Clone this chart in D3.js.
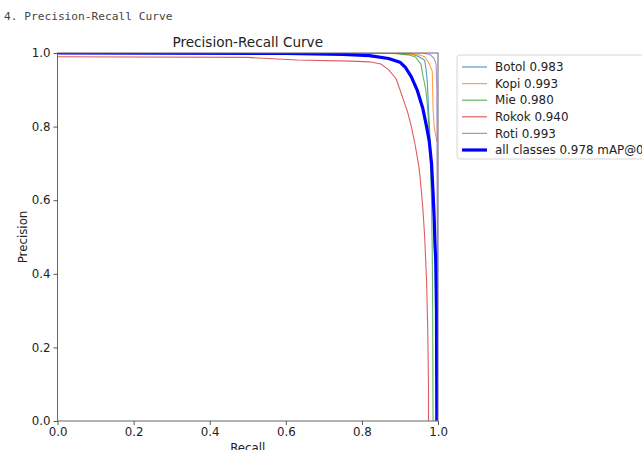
<!DOCTYPE html>
<html>
<head>
<meta charset="utf-8">
<script src="https://cdn.jsdelivr.net/npm/d3@7"></script>
<style>
  body { margin: 0; background: #fff; }
  #pr { position: relative; width: 642px; height: 450px; overflow: hidden; }
  .heading { position: absolute; left: 4px; top: 10px; font: 11.2px "DejaVu Sans Mono", monospace; color: #444; }
  text { font-family: "DejaVu Sans", sans-serif; fill: #222; }
</style>
</head>
<body>
<div id="pr">
  <div class="heading">4. Precision-Recall Curve</div>
</div>
<script>
// ---- data ----
var classNames = ['Botol', 'Kopi', 'Mie', 'Rokok', 'Roti'];
var classAP = ['0.983', '0.993', '0.980', '0.940', '0.993'];
var classColors = ['#1f77b4', '#ff7f0e', '#2ca02c', '#d62728', '#9467bd'];

var botolR = [0, 0.90, 0.93, 0.95, 0.965, 0.968, 0.972, 0.975, 0.98, 0.985, 0.99, 0.993, 0.995, 0.996];
var botolP = [1, 1.00, 0.998, 0.99, 0.98, 0.96, 0.92, 0.85, 0.75, 0.65, 0.55, 0.45, 0.30, 0.0];

var kopiR = [0, 0.85, 0.95, 0.965, 0.975, 0.985, 0.987, 0.99, 0.995, 0.997, 0.997];
var kopiP = [1, 1.00, 0.995, 0.99, 0.975, 0.95, 0.85, 0.80, 0.77, 0.76, 0.76];

var mieR = [0, 0.88, 0.92, 0.94, 0.955, 0.96, 0.968, 0.972, 0.976, 0.98, 0.983, 0.985, 0.986, 0.987];
var mieP = [1, 1.00, 0.995, 0.99, 0.97, 0.94, 0.90, 0.86, 0.80, 0.70, 0.60, 0.45, 0.30, 0.0];

var rokokR = [0, 0.50, 0.63, 0.77, 0.82, 0.85, 0.87, 0.89, 0.90, 0.91, 0.92, 0.93, 0.94, 0.95, 0.955, 0.96, 0.965, 0.97, 0.973, 0.975, 0.975];
var rokokP = [0.99, 0.988, 0.981, 0.978, 0.976, 0.97, 0.955, 0.93, 0.90, 0.87, 0.84, 0.80, 0.75, 0.69, 0.64, 0.58, 0.50, 0.38, 0.25, 0.10, 0.0];

var rotiR = [0, 0.96, 0.98, 0.99, 0.995, 0.997, 0.998, 0.998];
var rotiP = [1, 1.00, 0.995, 0.985, 0.97, 0.90, 0.50, 0.0];

var allR = [0, 0.60, 0.75, 0.82, 0.87, 0.90, 0.915, 0.93, 0.945, 0.96, 0.97, 0.977, 0.983, 0.987, 0.99, 0.992, 0.994, 0.996, 0.997];
var allP = [1, 0.999, 0.996, 0.993, 0.985, 0.975, 0.96, 0.935, 0.90, 0.85, 0.80, 0.76, 0.70, 0.62, 0.55, 0.48, 0.44, 0.30, 0.0];
var allLabel = 'all classes 0.978 mAP@0.5';

var tickVals = [0, 0.2, 0.4, 0.6, 0.8, 1.0];

// ---- layout ----
var plot = {left: 57.5, right: 438, top: 53, bottom: 421};

var svg = d3.select('#pr').append('svg')
    .attr('width', 642).attr('height', 450)
    .style('position', 'absolute').style('left', 0).style('top', 0);

var xScale = d3.scaleLinear().domain([0, 1]).range([plot.left, plot.right]),
    yScale = d3.scaleLinear().domain([0, 1]).range([plot.bottom, plot.top]);

svg.append('defs').append('clipPath').attr('id', 'clip')
  .append('rect')
    .attr('x', plot.left).attr('y', plot.top)
    .attr('width', plot.right - plot.left).attr('height', plot.bottom - plot.top);

var zip = function(r, p) { return r.map(function(d, i) { return [d, p[i]]; }); };
var line = d3.line().x(function(d) { return xScale(d[0]); }).y(function(d) { return yScale(d[1]); });

var series = [zip(botolR, botolP), zip(kopiR, kopiP), zip(mieR, mieP), zip(rokokR, rokokP), zip(rotiR, rotiP)];

var curves = svg.append('g').attr('clip-path', 'url(#clip)');
series.forEach(function(s, i) {
  curves.append('path')
    .attr('d', line(s))
    .attr('fill', 'none')
    .attr('stroke', classColors[i])
    .attr('stroke-opacity', 0.75)
    .attr('stroke-width', 1.1);
});
curves.append('path')
  .attr('d', line(zip(allR, allP)))
  .attr('fill', 'none')
  .attr('stroke', 'blue')
  .attr('stroke-width', 3.2)
  .attr('stroke-linejoin', 'round');

// frame
svg.append('rect')
  .attr('x', plot.left).attr('y', plot.top)
  .attr('width', plot.right - plot.left).attr('height', plot.bottom - plot.top)
  .attr('fill', 'none').attr('stroke', '#666').attr('stroke-width', 1);

// axes
var fmt = d3.format('.1f');
var xAxis = svg.append('g')
  .attr('transform', 'translate(0,' + plot.bottom + ')')
  .call(d3.axisBottom(xScale).tickValues(tickVals).tickFormat(fmt).tickSize(4).tickPadding(3));
var yAxis = svg.append('g')
  .attr('transform', 'translate(' + plot.left + ',0)')
  .call(d3.axisLeft(yScale).tickValues(tickVals).tickFormat(fmt).tickSize(4).tickPadding(3));
[xAxis, yAxis].forEach(function(a) {
  a.select('.domain').remove();
  a.selectAll('line').attr('stroke', '#555');
  a.selectAll('text').style('font-size', '11.8px').style('font-family', '"DejaVu Sans", sans-serif').attr('fill', '#333');
});

// labels
svg.append('text')
  .attr('x', (plot.left + plot.right) / 2).attr('y', 47)
  .attr('text-anchor', 'middle').style('font-size', '13.6px')
  .text('Precision-Recall Curve');
svg.append('text')
  .attr('x', (plot.left + plot.right) / 2).attr('y', 452)
  .attr('text-anchor', 'middle').style('font-size', '11.8px').attr('fill', '#333')
  .text('Recall');
svg.append('text')
  .attr('transform', 'translate(27,' + ((plot.top + plot.bottom) / 2) + ') rotate(-90)')
  .attr('text-anchor', 'middle').style('font-size', '11.8px').attr('fill', '#333')
  .text('Precision');

// legend
var legend = svg.append('g').attr('transform', 'translate(457,55)');
legend.append('rect')
  .attr('x', 0).attr('y', 0).attr('width', 220).attr('height', 104)
  .attr('rx', 3).attr('fill', '#fff').attr('stroke', '#d6d6d6');
var legendItems = classNames.map(function(n, i) {
  return {label: n + ' ' + classAP[i], color: classColors[i], width: 1.2, opacity: 0.75};
});
legendItems.push({label: allLabel, color: 'blue', width: 3.2, opacity: 1});
legendItems.forEach(function(d, i) {
  var yy = 12 + i * 16.6;
  legend.append('line')
    .attr('x1', 5).attr('x2', 30).attr('y1', yy).attr('y2', yy)
    .attr('stroke', d.color).attr('stroke-width', d.width).attr('stroke-opacity', d.opacity);
  legend.append('text')
    .attr('x', 38).attr('y', yy + 4.2)
    .style('font-size', '11.9px').attr('fill', '#333')
    .text(d.label);
});
</script>
</body>
</html>
